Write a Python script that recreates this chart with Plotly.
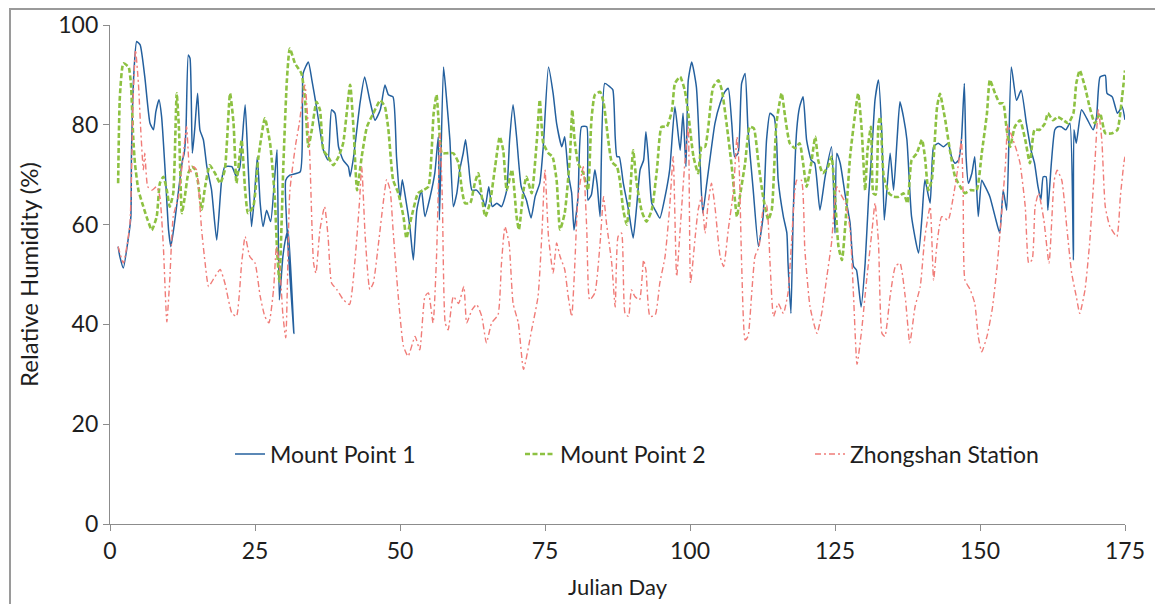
import plotly.graph_objects as go

# ---------------- data ----------------
mp1_day = [1.4, 1.7, 2.3, 3.2, 3.6, 3.7, 4.1, 4.6, 5.2, 6.0, 6.9, 7.5, 7.9, 8.45, 8.9, 9.5, 10.1, 10.5, 11.2, 11.9,
           12.5, 12.8, 13.1, 13.5, 13.8, 14.2, 14.6, 15.1, 15.5, 16.1, 16.7, 17.5, 18.4, 19.25, 19.8, 21.0, 21.8, 22.4,
           23.3, 23.8, 24.4, 24.9, 25.4, 25.9, 26.4, 27.0, 27.7, 28.4, 28.8, 29.2, 29.8, 30.3, 30.7, 31.7, 30.3, 31.0,
           32.8, 33.3, 34.2, 34.8, 35.6, 36.2, 36.8, 37.6, 38.2, 38.8, 39.4, 40.2, 41.1, 41.4, 42.0, 43.1, 43.9, 44.8,
           45.7, 46.6, 47.4, 48.0, 48.8, 49.4, 50.0, 50.4, 51.0, 51.7, 52.3, 52.9, 53.7, 54.3, 55.2, 56.0, 56.6, 56.8,
           57.5, 58.0, 58.6, 59.2, 59.8, 60.3, 60.9, 61.3, 61.8, 62.4, 63.2, 64.1, 64.7, 65.3, 65.9, 66.7, 67.5, 68.4,
           68.9, 69.5, 70.1, 70.9, 71.8, 72.6, 73.3, 74.1, 74.7, 75.6, 76.4, 77.0, 77.9, 78.4, 79.0, 79.6, 80.0, 80.7,
           81.3, 82.2, 82.4, 83.0, 83.6, 84.0, 84.5, 85.3, 86.2, 86.7, 87.1, 87.4, 87.8, 88.5, 89.4, 90.2, 90.8, 91.4,
           92.0, 92.4, 92.8, 93.4, 94.0, 94.8, 95.7, 96.5, 97.4, 98.3, 98.8, 99.3, 99.7, 100.3, 101.1, 101.7, 102.2,
           102.9, 104.3, 105.2, 106.0, 106.6, 107.2, 107.7, 108.3, 108.9, 109.5, 110.0, 110.9, 111.8, 112.6, 113.2,
           113.8, 114.5, 114.9, 115.2, 116.1, 116.7, 116.9, 117.4, 117.8, 118.4, 118.9, 119.5, 120.1, 120.9, 121.5,
           122.4, 123.3, 124.4, 125.0, 125.3, 125.9, 126.8, 127.6, 128.2, 128.7, 129.5, 130.2, 130.8, 131.4, 131.9,
           132.5, 133.1, 133.5, 134.5, 135.1, 135.7, 136.2, 136.8, 137.4, 138.2, 139.4, 140.0, 140.5, 141.4, 142.0,
           142.8, 143.7, 144.5, 145.1, 145.7, 146.3, 146.8, 147.3, 147.6, 148.0, 148.6, 149.1, 149.7, 150.3, 150.9,
           151.7, 152.6, 153.4, 154.0, 154.6, 155.4, 156.3, 157.1, 158.0, 158.8, 159.4, 160.0, 160.5, 160.9, 161.4,
           161.7, 162.3, 162.9, 163.4, 164.0, 164.8, 165.5, 166.1, 166.2, 166.6, 167.5, 168.4, 169.5, 170.1, 170.7,
           171.6, 171.9, 172.8, 173.7, 174.5, 175.0]
mp1_rh = [55.6, 53.6, 51.3, 57.6, 61.6, 74.0, 90.0, 96.7, 96.0, 89.6, 80.3, 79.0, 82.6, 85.0, 81.6, 70.9, 58.9, 55.6, 61.0, 67.6,
          72.9, 74.3, 79.0, 94.0, 93.3, 74.3, 79.0, 86.3, 79.0, 77.0, 71.6, 67.0, 56.9, 68.9, 71.6, 71.6, 69.6, 71.6,
          84.0, 72.3, 59.6, 65.6, 73.6, 64.2, 59.6, 62.9, 60.6, 69.6, 75.0, 44.9, 53.5, 57.3, 58.9, 38.2, 68.9, 69.9,
          70.6, 90.3, 92.6, 89.0, 83.6, 79.0, 74.9, 72.9, 83.0, 82.3, 75.6, 72.9, 71.6, 69.6, 73.6, 84.3, 89.6, 84.9,
          80.9, 83.0, 88.0, 86.0, 85.6, 73.6, 65.0, 69.0, 65.0, 59.6, 52.9, 62.9, 66.9, 61.6, 65.6, 70.3, 77.6, 60.9,
          91.6, 85.6, 77.0, 63.6, 66.3, 71.0, 74.3, 77.0, 72.3, 66.9, 66.9, 65.6, 63.6, 67.6, 63.6, 64.3, 63.6, 66.9,
          77.0, 84.0, 77.6, 67.6, 64.9, 61.3, 65.6, 68.3, 75.6, 91.6, 86.3, 80.3, 75.6, 77.6, 70.3, 66.3, 58.9, 65.6,
          79.6, 79.6, 64.9, 66.0, 71.0, 68.0, 61.6, 88.3, 87.6, 87.0, 77.6, 73.6, 73.6, 68.3, 62.9, 57.3, 63.6, 71.0,
          72.9, 78.6, 73.6, 64.3, 62.9, 61.3, 65.6, 71.0, 83.6, 74.9, 82.3, 71.6, 88.9, 92.6, 87.6, 73.6, 62.3,
          68.3, 80.3, 84.3, 86.6, 87.3, 80.3, 73.6, 74.3, 88.3, 90.3, 79.0, 66.9, 55.6, 61.6, 77.0,
          82.3, 81.6, 77.6, 69.0, 61.6, 58.3, 52.3, 42.2, 62.3, 79.0, 83.6, 85.6, 77.0, 72.9, 72.3,
          62.9, 69.6, 75.6, 58.3, 74.3, 72.3, 65.6, 60.3, 51.6, 50.9, 43.5, 52.3, 65.6, 75.6, 85.0,
          89.0, 77.6, 60.9, 74.3, 66.9, 77.0, 84.6, 81.6, 77.0, 61.6, 54.3, 61.6, 69.0, 64.3, 75.6,
          76.3, 75.6, 76.3, 73.6, 72.3, 72.9, 77.0, 88.3, 73.6, 68.3, 70.3, 73.6, 61.6, 68.9, 67.6,
          65.6, 61.6, 58.3, 66.9, 62.9, 91.6, 84.9, 86.9, 80.3, 74.9, 72.3, 67.6, 65.0, 69.6, 69.6,
          62.9, 72.3, 79.0, 79.6, 79.6, 79.0, 80.3, 52.9, 79.0, 76.3, 83.0, 81.3, 79.0, 81.6, 89.6,
          89.9, 86.3, 85.6, 82.3, 83.6, 81.0]

mp2_day = [1.4, 1.7, 2.3, 3.2, 3.6, 4.0, 4.3, 4.9, 5.75, 6.5, 7.2, 8.05, 8.6, 9.2, 9.8, 10.3, 10.9, 11.5, 11.9, 12.4,
           12.9, 13.5, 14.1, 14.7, 15.2, 15.8, 16.4, 17.2, 18.1, 19.0, 19.8, 20.7, 21.3, 21.8, 22.4, 22.7, 23.3, 23.8,
           24.7, 25.6, 26.7, 27.6, 28.4, 28.8, 29.2, 29.9, 30.5, 31.0, 31.9, 33.0, 33.6, 34.2, 34.8, 35.6, 36.2, 36.8,
           37.6, 38.5, 39.4, 40.2, 41.4, 42.0, 42.6, 43.4, 44.3, 45.4, 46.6, 47.4, 48.0, 48.8, 49.7, 50.6, 51.1, 52.0,
           53.1, 54.0, 54.9, 55.8, 56.3, 56.7, 57.2, 58.0, 59.2, 60.1, 60.6, 61.2, 62.1, 62.9, 63.5, 64.1, 64.7, 65.5,
           66.4, 67.2, 67.8, 68.4, 69.3, 70.1, 70.5, 71.3, 71.8, 72.7, 73.6, 74.1, 74.7, 75.6, 76.3, 77.0, 77.6, 78.4,
           79.3, 79.7, 80.1, 80.7, 81.6, 82.4, 83.0, 83.6, 84.5, 85.1, 85.9, 86.5, 87.4, 87.9, 88.5, 89.1, 89.6, 90.2,
           90.8, 91.7, 92.5, 93.4, 94.3, 95.1, 96.0, 96.9, 97.4, 98.3, 99.1, 99.7, 100.6, 101.4, 102.0, 102.6, 103.1,
           104.0, 104.9, 105.5, 106.3, 107.2, 108.1, 108.6, 109.5, 110.3, 111.0, 111.8, 112.6, 113.5, 114.1, 114.9,
           115.8, 116.4, 117.2, 118.1, 118.9, 119.5, 120.1, 120.9, 121.6, 122.1, 122.9, 123.8, 124.4, 125.0, 125.6,
           126.2, 126.8, 127.6, 128.4, 129.0, 129.6, 130.2, 130.6, 131.2, 131.6, 132.0, 132.5, 132.8, 133.4, 134.3,
           135.1, 136.0, 136.8, 137.5, 138.2, 139.1, 140.0, 140.5, 141.1, 141.7, 142.6, 143.1, 144.0, 144.8, 145.7,
           146.6, 147.4, 148.3, 149.4, 150.3, 151.2, 151.7, 152.6, 153.4, 154.0, 154.6, 155.2, 156.0, 156.9, 157.8,
           158.6, 159.4, 160.3, 161.2, 161.7, 162.6, 163.4, 164.4, 165.2, 166.1, 166.6, 167.2, 168.1, 168.9, 169.8,
           170.7, 171.6, 172.8, 173.7, 174.5, 175.0]
mp2_rh = [68.3, 85.6, 92.3, 91.6, 88.3, 77.6, 72.3, 66.9, 63.6, 60.9, 58.9, 61.6, 68.3, 69.6, 66.9, 63.6, 66.3, 86.3, 79.0, 62.3,
          65.6, 70.3, 71.6, 71.0, 68.3, 63.0, 67.6, 71.9, 70.3, 68.3, 71.0, 86.3, 80.3, 68.3, 74.3, 77.0, 66.9, 62.3,
          63.6, 73.6, 81.3, 76.3, 65.6, 55.0, 48.6, 72.3, 89.0, 95.3, 92.3, 90.3, 85.6, 75.6, 79.0, 84.6, 83.0, 74.9,
          73.6, 71.9, 73.6, 76.3, 88.0, 79.0, 66.9, 73.6, 79.6, 82.3, 84.9, 83.6, 79.0, 69.0, 66.3, 61.6, 57.3, 61.6,
          66.3, 66.9, 67.6, 82.3, 86.0, 80.0, 74.3, 74.3, 74.3, 72.3, 67.6, 64.3, 64.3, 68.3, 70.3, 65.6, 61.6, 64.3,
          71.6, 77.6, 74.9, 66.9, 71.0, 61.6, 59.0, 66.9, 69.6, 66.3, 77.0, 85.0, 76.3, 74.3, 73.6, 68.9, 59.0, 62.3,
          73.6, 83.0, 77.0, 72.3, 70.3, 66.9, 80.9, 86.0, 86.6, 84.5, 77.0, 72.6, 71.6, 68.9, 62.9, 60.0, 65.0, 74.9,
          68.3, 62.6, 60.6, 62.9, 71.0, 79.6, 79.6, 83.0, 88.3, 89.6, 86.9, 82.3, 73.6, 70.3, 75.6, 75.6, 79.0,
          87.6, 88.9, 86.9, 80.3, 71.6, 61.6, 65.6, 72.3, 79.6, 79.3, 72.3, 65.6, 61.0, 63.0, 80.3,
          86.3, 81.6, 76.3, 75.3, 76.3, 72.3, 67.6, 72.3, 77.6, 72.9, 70.3, 71.6, 73.6, 65.6, 55.6,
          52.9, 60.3, 73.6, 81.6, 86.3, 79.0, 66.9, 74.9, 79.6, 66.3, 66.0, 80.3, 81.6, 69.6, 66.3,
          65.6, 65.6, 66.3, 64.3, 72.9, 74.3, 77.0, 73.6, 66.9, 69.0, 83.6, 86.2, 81.0, 75.0, 69.6,
          67.6, 66.3, 66.9, 66.9, 74.3, 82.3, 89.0, 86.3, 84.3, 84.3, 79.0, 75.6, 79.6, 80.9, 77.0,
          72.3, 79.0, 79.0, 80.3, 82.3, 80.9, 81.6, 80.9, 80.3, 82.3, 88.3, 90.9, 87.6, 83.6, 80.3,
          82.3, 78.3, 78.3, 79.0, 85.6, 90.9]

zs_day = [1.4, 2.3, 2.9, 3.45, 4.0, 4.4, 4.9, 5.3, 5.75, 6.0, 6.5, 7.2, 8.05, 8.6, 9.2, 9.8, 10.3, 10.9, 11.8, 12.6,
          13.2, 13.8, 14.4, 14.9, 15.8, 16.4, 17.0, 18.1, 19.0, 19.8, 21.0, 21.8, 22.7, 23.3, 24.1, 25.0, 25.9, 26.7,
          27.4, 28.2, 28.7, 29.3, 29.8, 30.3, 31.0, 32.0, 32.6, 33.6, 34.4, 35.1, 35.5, 36.2, 37.0, 37.6, 38.2, 39.1,
          40.2, 41.3, 42.2, 43.0, 43.4, 44.0, 44.8, 45.4, 46.3, 47.1, 47.7, 48.3, 48.8, 49.7, 50.6, 51.4, 52.6, 53.4,
          54.3, 54.9, 55.7, 56.3, 56.9, 57.3, 57.8, 58.3, 59.2, 60.1, 61.0, 61.5, 62.4, 63.2, 64.1, 64.9, 65.8, 66.9,
          67.5, 68.1, 68.8, 69.5, 70.4, 71.3, 72.7, 73.8, 74.5, 75.0, 75.6, 76.4, 77.0, 77.6, 78.4, 79.0, 79.6, 80.1,
          80.7, 81.6, 82.2, 82.7, 83.6, 84.5, 85.1, 85.6, 86.5, 87.1, 87.6, 88.2, 88.8, 89.4, 89.9, 90.5, 91.3, 92.0,
          92.4, 93.1, 94.0, 94.8, 95.7, 96.5, 97.1, 97.7, 98.3, 99.1, 99.7, 100.1, 100.9, 101.4, 102.0, 102.6, 103.1,
          103.7, 104.3, 105.2, 105.8, 106.6, 107.5, 108.1, 108.5, 108.9, 109.5, 110.0, 110.6, 111.2, 111.9, 112.6,
          113.2, 113.8, 114.4, 115.2, 116.1, 116.9, 117.5, 118.4, 119.2, 119.8, 120.7, 121.9, 122.7, 123.6, 124.4,
          125.3, 125.9, 126.8, 127.6, 128.2, 128.8, 129.6, 130.4, 131.4, 131.9, 132.5, 133.1, 133.6, 134.5, 135.4,
          136.2, 137.1, 137.9, 138.8, 139.7, 140.5, 141.4, 142.0, 142.6, 143.4, 144.5, 145.4, 146.3, 146.8, 147.1,
          147.4, 148.3, 149.1, 149.7, 150.3, 151.2, 152.1, 152.9, 153.5, 154.4, 154.8, 155.4, 156.3, 156.9, 157.8,
          158.4, 159.0, 159.5, 160.1, 161.0, 161.9, 162.8, 163.3, 164.1, 165.0, 165.8, 166.6, 167.2, 168.1, 168.9,
          169.8, 170.4, 171.0, 171.6, 172.4, 173.6, 174.2, 174.8, 175.0]
zs_rh = [55.6, 52.3, 55.6, 60.3, 85.6, 95.0, 88.3, 79.0, 71.0, 74.3, 67.6, 66.9, 67.6, 65.6, 55.6, 40.5, 48.9, 61.6, 65.6, 73.6,
         79.6, 70.3, 71.6, 71.0, 58.9, 52.3, 47.6, 49.6, 51.0, 48.3, 42.3, 41.6, 52.3, 57.6, 53.6, 52.3, 45.6, 41.6,
         40.3, 47.0, 55.6, 51.0, 42.0, 37.3, 66.6, 76.0, 80.0, 88.0, 75.0, 52.3, 50.3, 59.0, 63.6, 57.6, 48.3, 47.0,
         45.0, 44.0, 52.3, 64.3, 71.6, 57.6, 47.0, 48.3, 56.3, 64.3, 69.0, 66.9, 59.0, 45.6, 35.6, 33.6, 37.6, 34.9,
         45.6, 46.3, 40.3, 53.6, 78.3, 65.0, 40.3, 38.9, 45.6, 44.2, 47.6, 40.3, 42.9, 44.0, 41.6, 36.3, 40.3, 41.9,
         52.3, 59.6, 56.3, 44.2, 40.3, 31.0, 38.9, 45.6, 59.0, 71.0, 57.6, 50.3, 56.3, 53.6, 51.0, 45.6, 41.6, 51.0,
         65.6, 71.6, 59.0, 44.9, 46.3, 56.3, 65.6, 60.3, 52.3, 43.5, 57.6, 58.3, 42.2, 41.6, 46.9, 45.6, 44.9, 52.9,
         50.9, 41.6, 41.9, 48.3, 53.6, 63.6, 73.6, 49.6, 59.0, 72.3, 79.6, 48.3, 57.6, 62.9, 65.6, 58.3, 63.9,
         68.3, 63.6, 53.6, 51.6, 59.0, 66.9, 77.6, 70.9, 52.3, 36.9, 37.6, 45.6, 53.6, 55.6, 62.9,
         63.9, 52.3, 41.6, 44.2, 42.2, 46.3, 56.3, 68.9, 68.9, 55.0, 43.5, 38.2, 42.2, 49.6, 56.3,
         67.6, 66.3, 64.3, 59.0, 45.6, 32.0, 38.9, 48.3, 59.0, 64.3, 56.3, 38.2, 37.6, 45.6, 51.6,
         52.3, 45.6, 36.3, 43.5, 47.6, 57.6, 63.6, 48.9, 56.3, 61.6, 60.9, 65.6, 72.3, 77.0, 65.6,
         48.9, 47.0, 44.2, 37.6, 34.5, 37.6, 43.0, 51.0, 59.0, 72.3, 80.0, 78.0, 74.9, 72.3, 63.6,
         52.3, 53.0, 63.6, 66.3, 61.0, 52.3, 68.9, 70.9, 68.9, 59.0, 50.3, 45.6, 42.2, 46.9, 56.3,
         72.3, 83.0, 77.0, 63.6, 59.6, 57.6, 65.6, 72.3, 73.6]

series_names = ["Mount Point 1", "Mount Point 2", "Zhongshan Station"]
x_ticks = [0, 25, 50, 75, 100, 125, 150, 175]
y_ticks = [0, 20, 40, 60, 80, 100]

# ---------------- figure ----------------
FONT = "Lato, 'Open Sans', sans-serif"
TXT = "#1E1E1E"
# the page body adds an 8px offset, so the figure is 8px smaller than the window
W, H = 1155, 596
ML, MR, MT, MB = 102, 38, 17, 80
pw = W - ML - MR
ph = H - MT - MB

fig = go.Figure()
fig.add_trace(go.Scatter(x=mp1_day, y=mp1_rh, name=series_names[0], mode="lines",
                         line=dict(color="#24609E", width=1.5, shape="spline", smoothing=0.5)))
fig.add_trace(go.Scatter(x=mp2_day, y=mp2_rh, name=series_names[1], mode="lines",
                         line=dict(color="#8DC142", width=2.6, dash="5px,2.5px", shape="spline", smoothing=0.5)))
fig.add_trace(go.Scatter(x=zs_day, y=zs_rh, name=series_names[2], mode="lines",
                         line=dict(color="#F07C78", width=1.4, dash="6px,3px,2px,3px", shape="spline", smoothing=0.5)))

# outer chart border (left and top edges visible, as in the original export)
fig.add_shape(type="rect", xref="paper", yref="paper",
              x0=(2 - ML) / pw, x1=(W + 20 - ML) / pw,
              y0=(H - MB - (H + 20)) / ph, y1=(H - MB - 1) / ph,
              line=dict(color="#9A9A9A", width=2), fillcolor="rgba(0,0,0,0)", layer="below")

fig.update_layout(
    width=W, height=H,
    margin=dict(l=ML, r=MR, t=MT, b=MB, autoexpand=False),
    paper_bgcolor="white", plot_bgcolor="white",
    font=dict(family=FONT, size=22, color=TXT),
    showlegend=True,
    legend=dict(orientation="h", x=(222 - ML) / pw, y=(H - MB - 446) / ph, xanchor="left", yanchor="middle",
                entrywidth=245, entrywidthmode="pixels", bgcolor="rgba(0,0,0,0)",
                font=dict(family=FONT, size=23, color=TXT)),
    xaxis=dict(range=[0, 175], tickvals=x_ticks, ticktext=[str(v) for v in x_ticks], automargin=False,
               showgrid=False, zeroline=False, showline=True, linecolor="#8C8C8C", linewidth=1.3,
               ticks="outside", ticklen=6, tickcolor="#8C8C8C", tickwidth=1.3,
               tickfont=dict(family=FONT, size=23, color=TXT),
               title=dict(text="Julian Day", font=dict(family=FONT, size=22, color=TXT), standoff=16)),
    yaxis=dict(range=[0, 100], tickvals=y_ticks, ticktext=[str(v) for v in y_ticks], automargin=False,
               showgrid=False, zeroline=False, showline=True, linecolor="#8C8C8C", linewidth=1.3,
               ticks="outside", ticklen=6, tickcolor="#8C8C8C", tickwidth=1.3,
               tickfont=dict(family=FONT, size=23, color=TXT),
               title=dict(text="Relative Humidity (%)", font=dict(family=FONT, size=24, color=TXT), standoff=12)),
)

fig.write_html("out.html")
